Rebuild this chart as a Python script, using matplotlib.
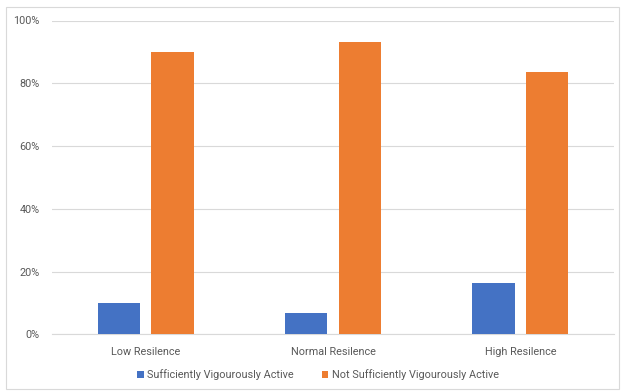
import matplotlib

matplotlib.use("Agg")
import matplotlib.pyplot as plt
from matplotlib.patches import Rectangle
from matplotlib.ticker import PercentFormatter
import numpy as np

categories = ["Low Resilence", "Normal Resilence", "High Resilence"]
active = [0.10, 0.068, 0.164]
not_active = [0.90, 0.93, 0.836]
series_names = ["Sufficiently Vigourously Active", "Not Sufficiently Vigourously Active"]
y_ticks = [0.0, 0.2, 0.4, 0.6, 0.8, 1.0]

BLUE = "#4472C4"
ORANGE = "#ED7D31"
TEXT = "#595959"
GRID = "#D9D9D9"

plt.rcParams["font.family"] = ["Roboto", "DejaVu Sans"]

fig = plt.figure(figsize=(6.21, 3.91), dpi=100)
# thin frame around the whole chart area
fig.patches.append(
    Rectangle(
        (5.5 / 621, 1.8 / 391), 613.5 / 621, 382.5 / 391,
        transform=fig.transFigure, facecolor="none",
        edgecolor=GRID, linewidth=0.8, zorder=-1,
    )
)

ax = fig.add_axes([52 / 621, 56.7 / 391, 562 / 621, 313.8 / 391])
ax.patch.set_alpha(0)
x = np.arange(len(categories))
width = 0.226
offset = 0.143
ax.bar(x - offset, active, width, color=BLUE, label=series_names[0], zorder=3)
ax.bar(x + offset, not_active, width, color=ORANGE, label=series_names[1], zorder=3)

ax.set_xlim(-0.5, len(categories) - 0.5)
ax.set_ylim(0, 1)
ax.set_yticks(y_ticks)
ax.yaxis.set_major_formatter(PercentFormatter(1.0, decimals=0))
ax.set_xticks(x)
ax.set_xticklabels(categories)
ax.grid(axis="y", color=GRID, linewidth=0.8, zorder=0)
for side in ["top", "right", "left"]:
    ax.spines[side].set_visible(False)
ax.spines["bottom"].set_color(GRID)
ax.spines["bottom"].set_linewidth(0.8)
ax.tick_params(axis="both", length=0, colors=TEXT, labelsize=7.8)
ax.tick_params(axis="x", pad=9)
ax.tick_params(axis="y", pad=9)

handles, labels = ax.get_legend_handles_labels()
fig.legend(
    handles, labels, loc="center", bbox_to_anchor=(0.512, 16 / 391), ncol=2,
    frameon=False, fontsize=7.8, labelcolor=TEXT, handlelength=0.6,
    handleheight=0.6, handletextpad=0.3, columnspacing=2.6,
)

fig.savefig("out.png", dpi=100)
